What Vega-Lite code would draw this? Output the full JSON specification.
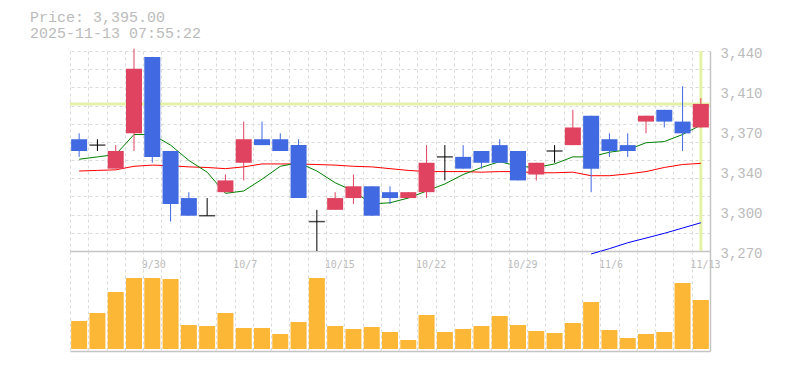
{
  "$schema": "https://vega.github.io/schema/vega-lite/v6.json",
  "background": "white",
  "padding": {"left": 30, "top": 10, "right": 5, "bottom": 5},
  "title": {
    "text": ["Price: 3,395.00", "2025-11-13 07:55:22"],
    "anchor": "start",
    "frame": "group",
    "dx": -40,
    "offset": 5,
    "font": "Liberation Mono",
    "fontSize": 15,
    "fontWeight": "normal",
    "color": "#bbbbbb",
    "lineHeight": 16
  },
  "config": {"view": {"stroke": null}},
  "data": {
    "values": [
      {"i": 1, "d": "9/24", "o": 3365, "h": 3370, "l": 3350, "c": 3355, "ma5": 3348, "ma25": 3338, "ma75": null, "v": 28000},
      {"i": 2, "d": "9/25", "o": 3360, "h": 3365, "l": 3355, "c": 3360, "ma5": 3350, "ma25": 3338.5, "ma75": null, "v": 36000},
      {"i": 3, "d": "9/26", "o": 3340, "h": 3360, "l": 3340, "c": 3355, "ma5": 3352, "ma25": 3339, "ma75": null, "v": 57000},
      {"i": 4, "d": "9/29", "o": 3370, "h": 3442, "l": 3355, "c": 3425, "ma5": 3369, "ma25": 3342, "ma75": null, "v": 71000},
      {"i": 5, "d": "9/30", "o": 3435, "h": 3435, "l": 3345, "c": 3350, "ma5": 3369, "ma25": 3343, "ma75": null, "v": 71000},
      {"i": 6, "d": "10/1", "o": 3355, "h": 3355, "l": 3295, "c": 3310, "ma5": 3360, "ma25": 3342.5, "ma75": null, "v": 70000},
      {"i": 7, "d": "10/2", "o": 3315, "h": 3320, "l": 3300, "c": 3300, "ma5": 3347, "ma25": 3341.5, "ma75": null, "v": 24000},
      {"i": 8, "d": "10/3", "o": 3300, "h": 3315, "l": 3300, "c": 3300, "ma5": 3337, "ma25": 3341, "ma75": null, "v": 23000},
      {"i": 9, "d": "10/6", "o": 3320, "h": 3335, "l": 3320, "c": 3330, "ma5": 3319, "ma25": 3340, "ma75": null, "v": 36000},
      {"i": 10, "d": "10/7", "o": 3345, "h": 3380, "l": 3330, "c": 3365, "ma5": 3321, "ma25": 3341.5, "ma75": null, "v": 21000},
      {"i": 11, "d": "10/8", "o": 3365, "h": 3380, "l": 3360, "c": 3360, "ma5": 3331, "ma25": 3344, "ma75": null, "v": 21000},
      {"i": 12, "d": "10/9", "o": 3365, "h": 3370, "l": 3355, "c": 3355, "ma5": 3342, "ma25": 3344, "ma75": null, "v": 15000},
      {"i": 13, "d": "10/10", "o": 3360, "h": 3365, "l": 3315, "c": 3315, "ma5": 3345, "ma25": 3344, "ma75": null, "v": 27000},
      {"i": 14, "d": "10/14", "o": 3295, "h": 3305, "l": 3270, "c": 3295, "ma5": 3338, "ma25": 3343.5, "ma75": null, "v": 71000},
      {"i": 15, "d": "10/15", "o": 3305, "h": 3320, "l": 3305, "c": 3315, "ma5": 3328, "ma25": 3343, "ma75": null, "v": 23000},
      {"i": 16, "d": "10/16", "o": 3315, "h": 3335, "l": 3310, "c": 3325, "ma5": 3321, "ma25": 3342, "ma75": null, "v": 20000},
      {"i": 17, "d": "10/17", "o": 3325, "h": 3325, "l": 3300, "c": 3300, "ma5": 3310, "ma25": 3341.5, "ma75": null, "v": 22000},
      {"i": 18, "d": "10/20", "o": 3320, "h": 3325, "l": 3310, "c": 3315, "ma5": 3311, "ma25": 3340, "ma75": null, "v": 17000},
      {"i": 19, "d": "10/21", "o": 3315, "h": 3320, "l": 3315, "c": 3320, "ma5": 3315, "ma25": 3338.5, "ma75": null, "v": 9000},
      {"i": 20, "d": "10/22", "o": 3320, "h": 3360, "l": 3315, "c": 3345, "ma5": 3321, "ma25": 3337.5, "ma75": null, "v": 34000},
      {"i": 21, "d": "10/23", "o": 3350, "h": 3360, "l": 3330, "c": 3350, "ma5": 3327, "ma25": 3337.5, "ma75": null, "v": 17000},
      {"i": 22, "d": "10/24", "o": 3350, "h": 3360, "l": 3340, "c": 3340, "ma5": 3335, "ma25": 3337.5, "ma75": null, "v": 20000},
      {"i": 23, "d": "10/27", "o": 3355, "h": 3355, "l": 3340, "c": 3345, "ma5": 3341, "ma25": 3337, "ma75": null, "v": 23000},
      {"i": 24, "d": "10/28", "o": 3360, "h": 3365, "l": 3345, "c": 3345, "ma5": 3346, "ma25": 3337.5, "ma75": null, "v": 33000},
      {"i": 25, "d": "10/29", "o": 3355, "h": 3355, "l": 3330, "c": 3330, "ma5": 3342, "ma25": 3337.5, "ma75": null, "v": 24000},
      {"i": 26, "d": "10/30", "o": 3335, "h": 3345, "l": 3330, "c": 3345, "ma5": 3341, "ma25": 3336.5, "ma75": null, "v": 18000},
      {"i": 27, "d": "10/31", "o": 3355, "h": 3360, "l": 3345, "c": 3355, "ma5": 3344, "ma25": 3336.5, "ma75": null, "v": 16000},
      {"i": 28, "d": "11/4", "o": 3360, "h": 3390, "l": 3360, "c": 3375, "ma5": 3350, "ma25": 3337, "ma75": null, "v": 26000},
      {"i": 29, "d": "11/5", "o": 3385, "h": 3385, "l": 3320, "c": 3340, "ma5": 3350, "ma25": 3334, "ma75": 3267.5, "v": 47000},
      {"i": 30, "d": "11/6", "o": 3365, "h": 3370, "l": 3350, "c": 3355, "ma5": 3354, "ma25": 3334, "ma75": 3272, "v": 19000},
      {"i": 31, "d": "11/7", "o": 3360, "h": 3370, "l": 3350, "c": 3355, "ma5": 3356, "ma25": 3335.5, "ma75": 3277, "v": 11000},
      {"i": 32, "d": "11/10", "o": 3380, "h": 3385, "l": 3370, "c": 3385, "ma5": 3362, "ma25": 3337.5, "ma75": 3281, "v": 15000},
      {"i": 33, "d": "11/11", "o": 3390, "h": 3390, "l": 3375, "c": 3380, "ma5": 3363, "ma25": 3341, "ma75": 3285, "v": 17000},
      {"i": 34, "d": "11/12", "o": 3380, "h": 3410, "l": 3355, "c": 3370, "ma5": 3369, "ma25": 3343.5, "ma75": 3289.5, "v": 66000},
      {"i": 35, "d": "11/13", "o": 3375, "h": 3400, "l": 3375, "c": 3395, "ma5": 3377, "ma25": 3344.5, "ma75": 3294, "v": 49000}
    ]
  },
  "spacing": 0,
  "bounds": "flush",
  "vconcat": [
    {
      "width": 640,
      "height": 200,
      "layer": [
        {
          "data": {"values": [{"price": 3395}]},
          "mark": {"type": "rule", "color": "#e4f2a8", "strokeWidth": 3},
          "encoding": {
            "y": {"field": "price", "type": "quantitative", "scale": {"domain": [3270, 3440], "nice": false, "zero": false}}
          }
        },
        {
          "transform": [{"filter": "datum.i == 35"}],
          "mark": {"type": "rule", "color": "#e4f2a8", "strokeWidth": 3},
          "encoding": {
            "x": {"field": "i", "type": "quantitative", "scale": {"domain": [0.5, 35.5], "nice": false, "zero": false, "padding": 0}}
          }
        },
        {
          "mark": {"type": "line", "color": "#ff0000", "strokeWidth": 1},
          "encoding": {
            "x": {"field": "i", "type": "quantitative", "scale": {"domain": [0.5, 35.5], "nice": false, "zero": false, "padding": 0}},
            "y": {"field": "ma25", "type": "quantitative", "scale": {"domain": [3270, 3440], "nice": false, "zero": false}}
          }
        },
        {
          "mark": {"type": "line", "color": "#008000", "strokeWidth": 1},
          "encoding": {
            "x": {"field": "i", "type": "quantitative", "scale": {"domain": [0.5, 35.5], "nice": false, "zero": false, "padding": 0}},
            "y": {"field": "ma5", "type": "quantitative", "scale": {"domain": [3270, 3440], "nice": false, "zero": false}}
          }
        },
        {
          "mark": {"type": "line", "color": "#0000ff", "strokeWidth": 1},
          "encoding": {
            "x": {"field": "i", "type": "quantitative", "scale": {"domain": [0.5, 35.5], "nice": false, "zero": false, "padding": 0}},
            "y": {"field": "ma75", "type": "quantitative", "scale": {"domain": [3270, 3440], "nice": false, "zero": false}}
          }
        },
        {
          "mark": {"type": "rule", "strokeWidth": 1},
          "encoding": {
            "x": {
              "field": "i", "type": "quantitative",
              "scale": {"domain": [0.5, 35.5], "nice": false, "zero": false, "padding": 0},
              "axis": {
                "title": null,
                "values": [0.5, 1.5, 2.5, 3.5, 4.5, 5.5, 6.5, 7.5, 8.5, 9.5, 10.5, 11.5, 12.5, 13.5, 14.5, 15.5, 16.5, 17.5, 18.5, 19.5, 20.5, 21.5, 22.5, 23.5, 24.5, 25.5, 26.5, 27.5, 28.5, 29.5, 30.5, 31.5, 32.5, 33.5, 34.5, 5, 10, 15, 20, 25, 30, 35],
                "tickCount": 200,
                "ticks": false,
                "domain": true,
                "domainColor": "#c4c4c4",
                "domainWidth": 1.5,
                "grid": true,
                "gridColor": "#dadada",
                "gridDash": [3, 3],
                "gridWidth": 1,
                "gridOpacity": {"condition": {"test": "datum.value % 1 == 0", "value": 0}, "value": 1},
                "labelExpr": "datum.value % 5 == 0 ? ['9/30','10/7','10/15','10/22','10/29','11/6','11/13'][datum.value / 5 - 1] : ''",
                "labelAlign": "left",
                "labelOffset": -11,
                "labelBaseline": "alphabetic",
                "labelPadding": 16,
                "labelFont": "DejaVu Sans Mono",
                "labelFontSize": 10,
                "labelColor": "#bbbbbb",
                "labelOverlap": false,
                "labelBound": false,
                "labelFlush": false
              }
            },
            "y": {
              "field": "l", "type": "quantitative",
              "scale": {"domain": [3270, 3440], "nice": false, "zero": false},
              "axis": {
                "title": null,
                "orient": "right",
                "values": [3270, 3285.4545, 3300.9091, 3316.3636, 3331.8182, 3347.2727, 3362.7273, 3378.1818, 3393.6364, 3409.0909, 3424.5455, 3440, 3304, 3338, 3372, 3406],
                "tickCount": 200,
                "ticks": false,
                "domain": true,
                "domainColor": "#c4c4c4",
                "domainWidth": 1.5,
                "grid": true,
                "gridColor": "#dadada",
                "gridDash": [3, 3],
                "gridWidth": 1,
                "gridOpacity": {"condition": {"test": "indexof([3304, 3338, 3372, 3406], datum.value) >= 0", "value": 0}, "value": 1},
                "labelExpr": "indexof([3270, 3304, 3338, 3372, 3406, 3440], datum.value) >= 0 ? format(round(datum.value / 10) * 10, ',') : ''",
                "labelAlign": "left",
                "labelBaseline": "alphabetic",
                "labelOffset": 6,
                "labelPadding": 10,
                "labelFont": "Liberation Mono",
                "labelFontSize": 14,
                "labelColor": "#bbbbbb",
                "labelOverlap": false,
                "labelBound": false,
                "labelFlush": false
              }
            },
            "y2": {"field": "h"},
            "color": {
              "condition": [
                {"test": "datum.c > datum.o", "value": "#e0435f"},
                {"test": "datum.c < datum.o", "value": "#4169e1"}
              ],
              "value": "#000000"
            }
          }
        },
        {
          "transform": [{"filter": "datum.o != datum.c"}],
          "mark": {"type": "bar", "width": 16},
          "encoding": {
            "x": {"field": "i", "type": "quantitative", "scale": {"domain": [0.5, 35.5], "nice": false, "zero": false, "padding": 0}},
            "y": {"field": "o", "type": "quantitative", "scale": {"domain": [3270, 3440], "nice": false, "zero": false}},
            "y2": {"field": "c"},
            "color": {
              "condition": {"test": "datum.c > datum.o", "value": "#e0435f"},
              "value": "#4169e1"
            }
          }
        },
        {
          "transform": [{"filter": "datum.o == datum.c"}],
          "mark": {"type": "tick", "orient": "horizontal", "size": 16, "thickness": 1.5, "color": "#000000"},
          "encoding": {
            "x": {"field": "i", "type": "quantitative", "scale": {"domain": [0.5, 35.5], "nice": false, "zero": false, "padding": 0}},
            "y": {"field": "o", "type": "quantitative", "scale": {"domain": [3270, 3440], "nice": false, "zero": false}}
          }
        }
      ]
    },
    {
      "width": 640,
      "height": 100,
      "mark": {"type": "bar", "color": "#fdb736", "width": 16},
      "encoding": {
        "x": {
          "field": "i", "type": "quantitative",
          "scale": {"domain": [0.5, 35.5], "nice": false, "zero": false, "padding": 0},
          "axis": {
            "title": null,
            "values": [0.5, 1.5, 2.5, 3.5, 4.5, 5.5, 6.5, 7.5, 8.5, 9.5, 10.5, 11.5, 12.5, 13.5, 14.5, 15.5, 16.5, 17.5, 18.5, 19.5, 20.5, 21.5, 22.5, 23.5, 24.5, 25.5, 26.5, 27.5, 28.5, 29.5, 30.5, 31.5, 32.5, 33.5, 34.5],
            "tickCount": 200,
            "labels": false,
            "ticks": false,
            "domain": true,
            "domainColor": "#c4c4c4",
            "domainWidth": 1.5,
            "grid": true,
            "gridColor": "#dadada",
            "gridDash": [3, 3],
            "gridWidth": 1
          }
        },
        "y": {
          "field": "v", "type": "quantitative",
          "scale": {"domain": [-2000, 98000], "nice": false},
          "axis": {
            "title": null,
            "orient": "right",
            "labels": false,
            "ticks": false,
            "grid": false,
            "domain": true,
            "domainColor": "#c4c4c4",
            "domainWidth": 1.5
          }
        },
        "y2": {"datum": 0}
      }
    }
  ]
}
